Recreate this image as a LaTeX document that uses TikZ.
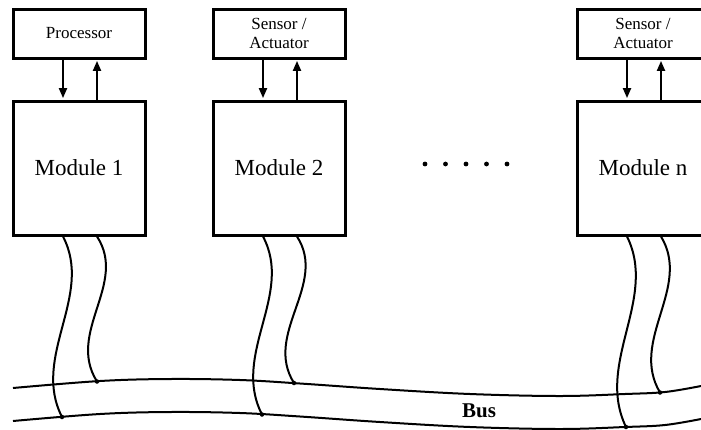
\documentclass[tikz,border=0pt]{standalone}
\usepackage{fontspec}
\setmainfont{Liberation Serif}
\usetikzlibrary{arrows.meta}

\begin{document}
\begin{tikzpicture}[x=1pt,y=-1pt,
  boxline/.style={draw, line width=3pt, rectangle, inner sep=0pt},
  devbox/.style={boxline, minimum width=132pt, minimum height=49pt,
                 font=\fontsize{17}{18.5}\selectfont, align=center},
  modbox/.style={boxline, minimum width=132pt, minimum height=134pt,
                 font=\fontsize{23}{27}\selectfont},
  link/.style={line width=2pt, -{Triangle[length=10pt,width=8pt]}, shorten >=1.4pt},
  wire/.style={line width=2pt},
  busline/.style={line width=2pt},
  joint/.style={circle, fill, inner sep=0pt, minimum size=4.5pt},
]
\useasboundingbox (0,0) rectangle (701,429);
\clip (0,0) rectangle (701,429);

% devices and modules
\node[devbox] (proc) at (79,33.5) {Processor};
\node[modbox] (mod1) at (79,168) {Module 1};
\node[devbox] (sens2) at (279,33.5) {Sensor /\\Actuator};
\node[modbox] (mod2) at (279,168) {Module 2};
\node[devbox] (sensn) at (643,33.5) {Sensor /\\Actuator};
\node[modbox] (modn) at (643,168) {Module n};

% device <-> module links
\foreach \d/\m in {proc/mod1, sens2/mod2, sensn/modn}{
  \draw[link] ([xshift=-16pt]\d.south) -- ([xshift=-16pt]\m.north);
  \draw[link] ([xshift=18pt]\m.north) -- ([xshift=18pt]\d.south);
}

% ellipsis between modules
\foreach \x in {425,445.5,466,486.5,507}
  \fill (\x,164) circle (2.4pt);

% bus lines
\draw[busline] plot[smooth, tension=0.6] coordinates {
  (13,388) (100,381) (170,379) (240,380) (300,383.5) (380,389)
  (470,394) (560,396) (625,394) (665,392) (701,386)};
\draw[busline] plot[smooth, tension=0.6] coordinates {
  (13,421) (100,414) (170,412) (240,413) (300,416.5) (380,422)
  (470,427) (560,429) (625,427) (665,425) (701,419)};
\node[font=\fontsize{21}{25}\bfseries\selectfont] (bus) at (479,411) {Bus};

% bus taps
\coordinate (t1a) at (62,417);
\coordinate (t1b) at (97,381.5);
\coordinate (t2a) at (262,414.5);
\coordinate (t2b) at (294,383);
\coordinate (tna) at (626,427);
\coordinate (tnb) at (660,392.5);

\draw[wire] ([xshift=-16pt]mod1.south) .. controls (94,295.7) and (31,356.3) .. (t1a);
\draw[wire] ([xshift=18pt]mod1.south) .. controls (128,283.7) and (66,332.3) .. (t1b);
\draw[wire] ([xshift=-16pt]mod2.south) .. controls (294,294.7) and (231,354.3) .. (t2a);
\draw[wire] ([xshift=18pt]mod2.south) .. controls (328,284.3) and (263,333.7) .. (t2b);
\draw[wire] ([xshift=-16pt]modn.south) .. controls (658,299) and (595,363) .. (tna);
\draw[wire] ([xshift=18pt]modn.south) .. controls (692,287.7) and (629,340.3) .. (tnb);

\foreach \t in {t1a,t1b,t2a,t2b,tna,tnb}
  \node[joint] at (\t) {};
\end{tikzpicture}
\end{document}
